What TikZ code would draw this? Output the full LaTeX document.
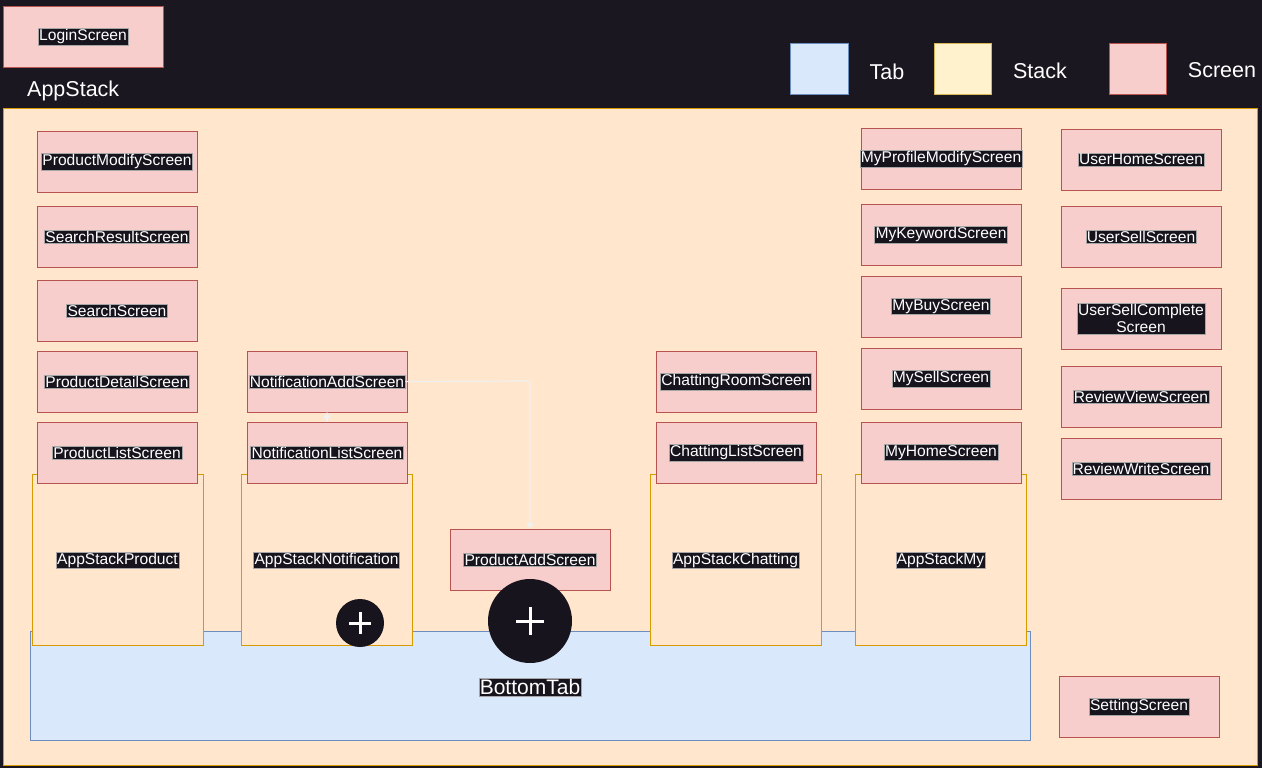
\documentclass[tikz,border=0pt]{standalone}
\usepackage{fontspec}
\setmainfont{Liberation Sans}
\usetikzlibrary{arrows.meta}
\definecolor{bgdark}{HTML}{1A1720}
\definecolor{lblbg}{HTML}{18141D}
\definecolor{stackfill}{HTML}{FFE6CC}
\definecolor{stackdraw}{HTML}{D79B00}
\definecolor{tabfill}{HTML}{DAE8FC}
\definecolor{tabdraw}{HTML}{6C8EBF}
\definecolor{scrfill}{HTML}{F8CECC}
\definecolor{scrdraw}{HTML}{B85450}
\definecolor{legstackfill}{HTML}{FFF2CC}
\definecolor{legstackdraw}{HTML}{D6B656}
\definecolor{linkc}{HTML}{F0F0F0}
\tikzset{
  every node/.style={font=\fontsize{15.6}{17}\selectfont},
  lbl/.style={fill=lblbg, text=white, inner sep=1pt, draw=gray!70, line width=0.3pt, align=center},
  scr/.style={draw=scrdraw, fill=scrfill, line width=0.8pt},
  stk/.style={draw=stackdraw, fill=stackfill, line width=0.8pt},
  tabbox/.style={draw=tabdraw, fill=tabfill, line width=0.8pt},
  link/.style={draw=linkc, line width=1.2pt, -{Triangle[length=6pt,width=7pt]}},
  big/.style={text=white, inner sep=0pt, font=\fontsize{21.5}{24}\selectfont},
}
\newcommand{\scrbox}[6]{% name x1 y1 x2 y2 text
  \path[scr] (#2,#3) rectangle (#4,#5);
  \coordinate (#1) at ({(#2+#4)/2},{(#3+#5)/2});
  \node[lbl] (#1-t) at (#1) {#6};
}
\begin{document}
\begin{tikzpicture}[x=1pt,y=-1pt]
\fill[bgdark] (0,0) rectangle (1262,768);
\useasboundingbox (0,0) rectangle (1262,768);
% AppStack container
\path[stk] (3,108) rectangle (1257,765);
\node[big, anchor=west] (appstack) at (27,91) {AppStack};
% Bottom tab
\path[tabbox] (30,631) rectangle (1030,740);
% stacks
\path[stk] (32,474) rectangle (203,645);
\node[lbl] (stkprod) at (117.5,560) {AppStackProduct};
\path[stk] (241,474) rectangle (412,645);
\node[lbl] (stknoti) at (326.5,560) {AppStackNotification};
\path[stk] (650,474) rectangle (821,645);
\node[lbl] (stkchat) at (735.5,560) {AppStackChatting};
\path[stk] (855,474) rectangle (1026,645);
\node[lbl] (stkmy) at (940.5,560) {AppStackMy};
\node[lbl, font=\fontsize{21}{23}\selectfont] (bottomtab) at (530,687) {BottomTab};
% login
\scrbox{login}{3}{6}{163}{67}{LoginScreen}
% product column
\scrbox{pmod}{37}{131}{197}{192}{ProductModifyScreen}
\scrbox{sres}{37}{206}{197}{267}{SearchResultScreen}
\scrbox{srch}{37}{280}{197}{341}{SearchScreen}
\scrbox{pdet}{37}{351}{197}{412}{ProductDetailScreen}
\scrbox{plist}{37}{422}{197}{483}{ProductListScreen}
% notification
\scrbox{nadd}{247}{351}{407}{412}{NotificationAddScreen}
\scrbox{nlist}{247}{422}{407}{483}{NotificationListScreen}
\scrbox{padd}{450}{529}{610}{590}{ProductAddScreen}
% chatting
\scrbox{croom}{656}{351}{816}{412}{ChattingRoomScreen}
\scrbox{clist}{656}{422}{816}{483}{ChattingListScreen}
% my
\scrbox{mprof}{861}{128}{1021}{189}{MyProfileModifyScreen}
\scrbox{mkey}{861}{204}{1021}{265}{MyKeywordScreen}
\scrbox{mbuy}{861}{276}{1021}{337}{MyBuyScreen}
\scrbox{msell}{861}{348}{1021}{409}{MySellScreen}
\scrbox{mhome}{861}{422}{1021}{483}{MyHomeScreen}
% user
\scrbox{uhome}{1061}{129}{1221}{190}{UserHomeScreen}
\scrbox{usell}{1061}{206}{1221}{267}{UserSellScreen}
\scrbox{ucomp}{1061}{288}{1221}{349}{UserSellComplete\\Screen}
\scrbox{rview}{1061}{366}{1221}{427}{ReviewViewScreen}
\scrbox{rwrite}{1061}{438}{1221}{499}{ReviewWriteScreen}
\scrbox{setting}{1059}{676}{1219}{737}{SettingScreen}
% connectors
\coordinate (paddT) at (530,529);
\draw[link] (nadd-t.east) -- (530,381) -- (paddT);
\coordinate (nlistT) at (327,422);
\coordinate (naddB) at (327,412);
\draw[link] (nlistT) -- (naddB);
% plus buttons
\fill[lblbg] (360,623) circle (24);
\draw[white, line width=3pt] (349,623) -- (371,623) (360,612) -- (360,634);
\fill[lblbg] (530,621) circle (42);
\draw[white, line width=3pt] (516,621) -- (544,621) (530,607) -- (530,635);
% legend
\path[tabbox] (790,43) rectangle (848,94);
\node[big] (ltab) at (887,72) {Tab};
\path[draw=legstackdraw, fill=legstackfill, line width=0.8pt] (934,43) rectangle (991,94);
\node[big] (lstack) at (1040,71) {Stack};
\path[scr] (1109,43) rectangle (1166,94);
\node[big] (lscr) at (1222,70) {Screen};
\end{tikzpicture}
\end{document}
